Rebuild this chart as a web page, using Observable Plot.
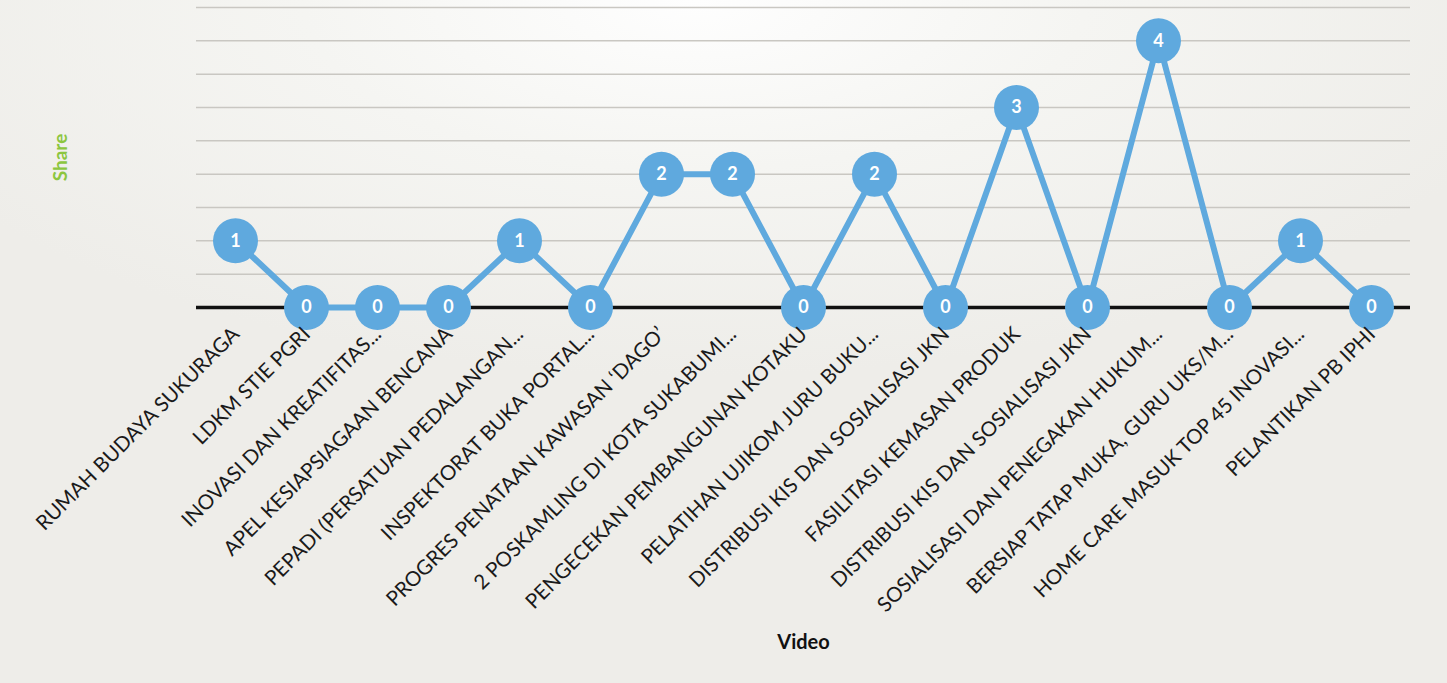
<!DOCTYPE html>
<html>
<head>
<meta charset="utf-8">
<script src="https://cdn.jsdelivr.net/npm/d3@7"></script>
<script src="https://cdn.jsdelivr.net/npm/@observablehq/plot@0.6"></script>
<style>
  html, body { margin: 0; padding: 0; }
  body {
    width: 1447px; height: 683px; overflow: hidden;
    background: radial-gradient(ellipse 60% 55% at 48% 0%, #fefefe 0%, #f5f5f2 45%, #eeede9 100%);
  }
  svg { display: block; background: transparent !important; }
</style>
</head>
<body>
<div id="chart"></div>
<script>
const videos = [
  "RUMAH BUDAYA SUKURAGA",
  "LDKM STIE PGRI",
  "INOVASI DAN KREATIFITAS...",
  "APEL KESIAPSIAGAAN BENCANA",
  "PEPADI (PERSATUAN PEDALANGAN...",
  "INSPEKTORAT BUKA PORTAL...",
  "PROGRES PENATAAN KAWASAN \u2018DAGO\u2019",
  "2 POSKAMLING DI KOTA SUKABUMI...",
  "PENGECEKAN PEMBANGUNAN KOTAKU",
  "PELATIHAN UJIKOM JURU BUKU...",
  "DISTRIBUSI KIS DAN SOSIALISASI JKN",
  "FASILITASI KEMASAN PRODUK",
  "DISTRIBUSI KIS DAN SOSIALISASI JKN",
  "SOSIALISASI DAN PENEGAKAN HUKUM...",
  "BERSIAP TATAP MUKA, GURU UKS/M...",
  "HOME CARE MASUK TOP 45 INOVASI...",
  "PELANTIKAN PB IPHI"
];
const shares = [1, 0, 0, 0, 1, 0, 2, 2, 0, 2, 0, 3, 0, 4, 0, 1, 0];
const gridValues = [0.5, 1, 1.5, 2, 2.5, 3, 3.5, 4, 4.5];

const data = videos.map((v, i) => ({idx: i, video: v, share: shares[i]}));
const blue = "#5fa9de";
const font = "Lato, 'Open Sans', sans-serif";

const chart = Plot.plot({
  width: 1447,
  height: 683,
  marginLeft: 196,
  marginRight: 37,
  marginTop: 7,
  marginBottom: 376,
  style: {fontFamily: font, background: "transparent"},
  x: {type: "point", domain: d3.range(videos.length), padding: 0.5, axis: null},
  y: {domain: [0, 4.5], axis: null},
  marks: [
    Plot.ruleY(gridValues, {stroke: "#c9c7c2", strokeWidth: 1.5}),
    Plot.ruleY([0], {stroke: "#111", strokeWidth: 3.5}),
    Plot.line(data, {x: "idx", y: "share", stroke: blue, strokeWidth: 6, strokeLinejoin: "round"}),
    Plot.dot(data, {x: "idx", y: "share", r: 22.5, fill: blue, stroke: "none"}),
    Plot.text(data, {x: "idx", y: "share", text: d => String(d.share), fill: "white", fontWeight: "bold", fontSize: 18}),
    Plot.text(data, {
      x: "idx", text: "video", frameAnchor: "bottom",
      rotate: -45, textAnchor: "end", dx: 5, dy: 28,
      fontSize: 20.5, fill: "#1a1a1a"
    }),
    Plot.text(["Share"], {frameAnchor: "left", textAnchor: "middle", dx: -136, rotate: -90, fill: "#8cc63f", fontWeight: "bold", fontSize: 19}),
    Plot.text(["Video"], {frameAnchor: "bottom", dy: 341, fill: "#111", fontWeight: "bold", fontSize: 20})
  ]
});
document.getElementById("chart").appendChild(chart);
</script>
</body>
</html>
